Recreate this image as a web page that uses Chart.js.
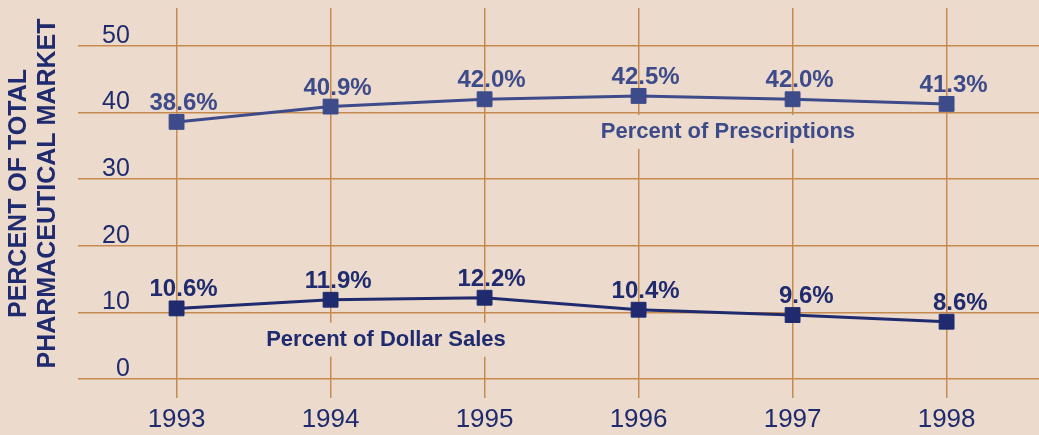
<!DOCTYPE html>
<html>
<head>
<meta charset="utf-8">
<script src="https://cdn.jsdelivr.net/npm/chart.js@4.4.0/dist/chart.umd.min.js"></script>
<style>
  html, body { margin: 0; padding: 0; background: #ecdbcc; }
  #wrap { width: 1039px; height: 435px; }
</style>
</head>
<body>
<div id="wrap"><canvas id="marketChart"></canvas></div>
<script>
const years = [1993, 1994, 1995, 1996, 1997, 1998];
const prescriptions = [38.6, 40.9, 42.0, 42.5, 42.0, 41.3];
const dollarSales = [10.6, 11.9, 12.2, 10.4, 9.6, 8.6];
const yTicks = [0, 10, 20, 30, 40, 50];

const bg = '#ecdbcc';
const gridColor = '#c68a50';
const navy = '#1f2b6e';
const blue = '#3e4b8a';

// series captions, placed in data units
const captions = [
    { text: 'Percent of Prescriptions', x: 1996.58, y: 37.1, color: blue },
    { text: 'Percent of Dollar Sales', x: 1994.36, y: 5.9, color: navy }
];

const labelPlugin = {
    id: 'labels',
    beforeDatasetsDraw(chart) {
        const { ctx, scales: { x, y } } = chart;
        ctx.save();
        ctx.font = 'bold 22px "Liberation Sans", Arial, sans-serif';
        ctx.textAlign = 'center';
        ctx.textBaseline = 'middle';
        captions.forEach(c => {
            const px = x.getPixelForValue(c.x);
            const py = y.getPixelForValue(c.y);
            const w = ctx.measureText(c.text).width;
            ctx.fillStyle = bg;
            ctx.fillRect(px - w / 2 - 6, py - 17, w + 12, 34);
            ctx.fillStyle = c.color;
            ctx.fillText(c.text, px, py);
        });
        ctx.restore();
    },
    afterDatasetsDraw(chart) {
        const { ctx } = chart;
        ctx.save();
        ctx.font = 'bold 24px "Liberation Sans", Arial, sans-serif';
        ctx.textAlign = 'right';
        ctx.textBaseline = 'alphabetic';
        chart.data.datasets.forEach((ds, i) => {
            const meta = chart.getDatasetMeta(i);
            ctx.fillStyle = ds.borderColor;
            meta.data.forEach((pt, j) => {
                ctx.fillText(ds.data[j].y.toFixed(1) + '%', pt.x + 41, pt.y - 12);
            });
        });
        ctx.restore();
    }
};

const ctx = document.getElementById('marketChart').getContext('2d');

new Chart(ctx, {
    type: 'line',
    data: {
        datasets: [{
            label: 'Percent of Prescriptions',
            data: years.map((yr, i) => ({ x: yr, y: prescriptions[i] })),
            borderColor: blue,
            backgroundColor: blue,
            borderWidth: 3,
            pointStyle: 'rect',
            pointRadius: 10.5,
            pointBorderWidth: 1,
            tension: 0
        }, {
            label: 'Percent of Dollar Sales',
            data: years.map((yr, i) => ({ x: yr, y: dollarSales[i] })),
            borderColor: navy,
            backgroundColor: navy,
            borderWidth: 3,
            pointStyle: 'rect',
            pointRadius: 10.5,
            pointBorderWidth: 1,
            tension: 0
        }]
    },
    options: {
        responsive: true,
        maintainAspectRatio: false,
        animation: false,
        layout: { autoPadding: false, padding: { top: 8, right: 0, left: 0, bottom: 0 } },
        scales: {
            x: {
                type: 'linear',
                min: 1992.36,
                max: 1998.6,
                afterBuildTicks: (scale) => { scale.ticks = years.map(v => ({ value: v })); },
                afterFit: (scale) => { scale.height = 56; scale.paddingLeft = 0; scale.paddingRight = 0; },
                border: { display: false },
                grid: { color: gridColor, lineWidth: 1.5, drawTicks: true, tickLength: 19, tickColor: gridColor },
                ticks: {
                    color: navy,
                    padding: 6,
                    font: { family: '"Liberation Sans", Arial, sans-serif', size: 26 },
                    callback: (v) => String(v)
                }
            },
            y: {
                min: 0,
                max: 55.7,
                afterBuildTicks: (scale) => { scale.ticks = yTicks.map(v => ({ value: v })); },
                afterFit: (scale) => { scale.width = 78; scale.paddingTop = 0; scale.paddingBottom = 0; },
                border: { display: false },
                grid: { color: gridColor, lineWidth: 1.5, drawTicks: false },
                ticks: {
                    mirror: true,
                    crossAlign: 'far',
                    padding: 24,
                    labelOffset: -10,
                    color: navy,
                    font: { family: '"Liberation Sans", Arial, sans-serif', size: 25 }
                },
                title: {
                    display: true,
                    text: ['PERCENT OF TOTAL', 'PHARMACEUTICAL MARKET'],
                    color: navy,
                    padding: { top: 5, bottom: 0 },
                    font: { family: '"Liberation Sans", Arial, sans-serif', size: 25, weight: 'bold', lineHeight: 1.14 }
                }
            }
        },
        plugins: {
            legend: { display: false },
            tooltip: { enabled: false }
        }
    },
    plugins: [labelPlugin]
});
</script>
</body>
</html>
